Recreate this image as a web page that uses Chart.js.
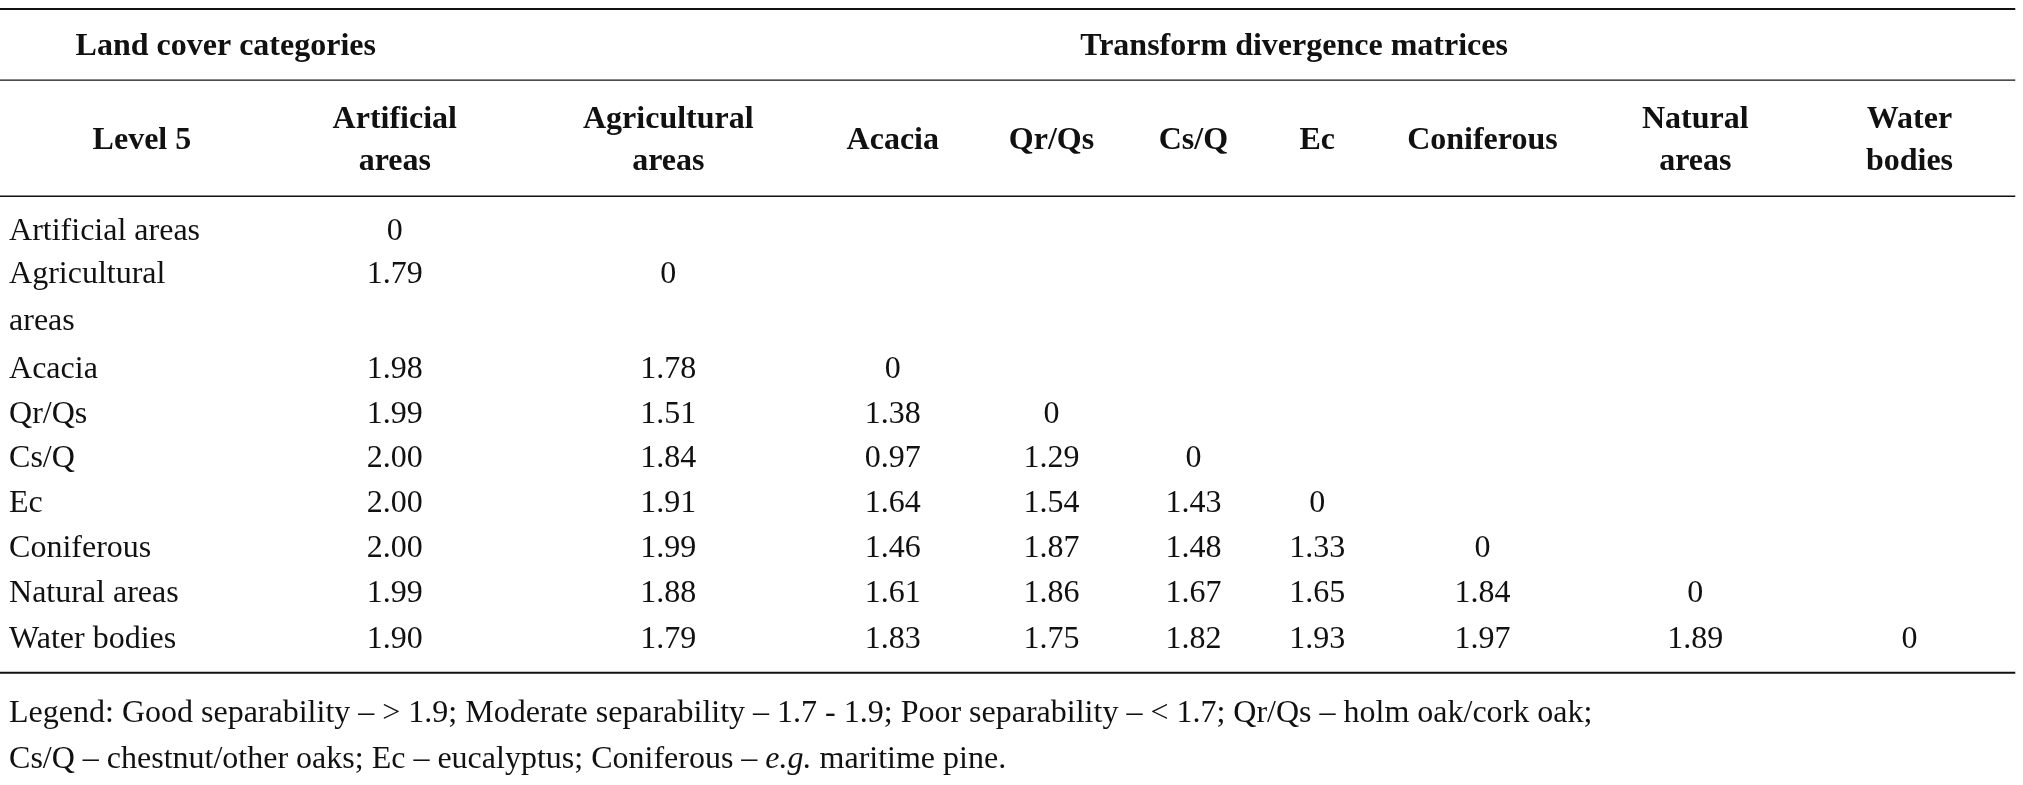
<!DOCTYPE html>
<html>
<head>
<meta charset="utf-8">
<script src="https://cdn.jsdelivr.net/npm/chart.js@4"></script>
<style>
  html, body { margin: 0; padding: 0; background: #fff; }
  canvas { display: block; }
</style>
</head>
<body>
<canvas id="table" width="2023" height="785"></canvas>
<script>
// row labels (some wrap onto two lines)
const rowLabels = [
  ["Artificial areas"],
  ["Agricultural", "areas"],
  ["Acacia"],
  ["Qr/Qs"],
  ["Cs/Q"],
  ["Ec"],
  ["Coniferous"],
  ["Natural areas"],
  ["Water bodies"]
];
// column headers
const colHeaders = [
  ["Artificial", "areas"],
  ["Agricultural", "areas"],
  ["Acacia"],
  ["Qr/Qs"],
  ["Cs/Q"],
  ["Ec"],
  ["Coniferous"],
  ["Natural", "areas"],
  ["Water", "bodies"]
];
// lower-triangular transform divergence values
const tdValues = [
  ["0"],
  ["1.79", "0"],
  ["1.98", "1.78", "0"],
  ["1.99", "1.51", "1.38", "0"],
  ["2.00", "1.84", "0.97", "1.29", "0"],
  ["2.00", "1.91", "1.64", "1.54", "1.43", "0"],
  ["2.00", "1.99", "1.46", "1.87", "1.48", "1.33", "0"],
  ["1.99", "1.88", "1.61", "1.86", "1.67", "1.65", "1.84", "0"],
  ["1.90", "1.79", "1.83", "1.75", "1.82", "1.93", "1.97", "1.89", "0"]
];
const legendLine1 = "Legend: Good separability \u2013 > 1.9; Moderate separability \u2013 1.7 - 1.9; Poor separability \u2013 < 1.7; Qr/Qs \u2013 holm oak/cork oak;";
const legendLine2 = [["Cs/Q \u2013 chestnut/other oaks; Ec \u2013 eucalyptus; Coniferous \u2013 ", false], ["e.g.", true], [" maritime pine.", false]];

// layout in table units (x: 0..1568, y: 0..608, downward)
const colX = [306, 518, 692, 815, 925, 1021, 1149, 1314, 1480];
const rowY = [179, 213, 286, 321, 355, 390, 425, 460, 495];
const lineH = 36;

const tablePlugin = {
  id: 'tablePlugin',
  afterDraw(chart) {
    const ctx = chart.ctx, xs = chart.scales.x, ys = chart.scales.y;
    const X = v => xs.getPixelForValue(v), Y = v => ys.getPixelForValue(v);
    const k = X(100) - X(0);
    const fs = Math.round(24.5 * k / 100);
    const reg = fs + 'px "Liberation Serif", "DejaVu Serif", serif';
    const bold = 'bold ' + reg;
    ctx.save();
    ctx.fillStyle = '#111';
    ctx.strokeStyle = '#111';
    ctx.textBaseline = 'middle';

    const hline = (y, x0, x1, w) => {
      ctx.lineWidth = w;
      ctx.beginPath(); ctx.moveTo(X(x0), Y(y)); ctx.lineTo(X(x1), Y(y)); ctx.stroke();
    };
    hline(7, 0, 1562, 2);
    hline(62, 0, 1562, 1.3);
    hline(152, 0, 1562, 1.3);
    hline(521, 0, 1562, 2);

    ctx.font = bold;
    ctx.textAlign = 'center';
    ctx.fillText('Land cover categories', X(175), Y(36));
    ctx.fillText('Transform divergence matrices', X(1003), Y(36));
    ctx.fillText('Level 5', X(110), Y(109));
    colHeaders.forEach((h, i) => {
      if (h.length === 1) ctx.fillText(h[0], X(colX[i]), Y(109));
      else { ctx.fillText(h[0], X(colX[i]), Y(93)); ctx.fillText(h[1], X(colX[i]), Y(125)); }
    });

    ctx.font = reg;
    rowLabels.forEach((lab, r) => {
      ctx.textAlign = 'left';
      lab.forEach((t, j) => ctx.fillText(t, X(7), Y(rowY[r] + j * lineH)));
      ctx.textAlign = 'center';
      tdValues[r].forEach((v, c) => ctx.fillText(v, X(colX[c]), Y(rowY[r])));
    });

    ctx.textAlign = 'left';
    ctx.fillText(legendLine1, X(7), Y(553));
    let x = X(7);
    legendLine2.forEach(([t, it]) => {
      ctx.font = it ? 'italic ' + reg : reg;
      ctx.fillText(t, x, Y(588));
      x += ctx.measureText(t).width;
    });
    ctx.restore();
  }
};

new Chart(document.getElementById('table'), {
  type: 'scatter',
  data: { datasets: [{ data: [], pointRadius: 0 }] },
  options: {
    responsive: false,
    devicePixelRatio: 1,
    animation: false,
    layout: { padding: 0 },
    plugins: { legend: { display: false }, tooltip: { enabled: false } },
    scales: {
      x: { type: 'linear', min: 0, max: 1568, display: false },
      y: { type: 'linear', min: 0, max: 608, reverse: true, display: false }
    }
  },
  plugins: [tablePlugin]
});
</script>
</body>
</html>
